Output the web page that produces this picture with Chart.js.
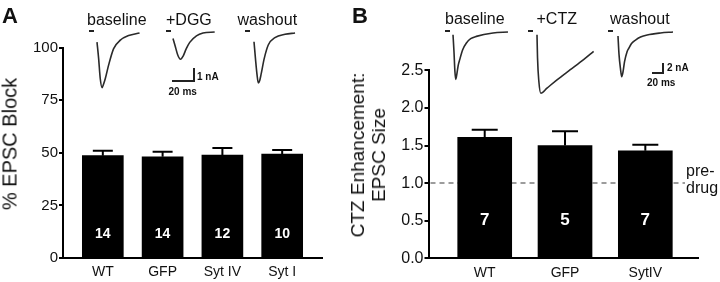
<!DOCTYPE html>
<html lang="en">
<head>
<meta charset="UTF-8">
<title>EPSC block / CTZ enhancement</title>
<script src="https://cdn.jsdelivr.net/npm/chart.js"></script>
<style>
  body { margin: 0; background: #fff; }
  #fig { position: relative; width: 720px; height: 282px; overflow: hidden; font-family: "Liberation Sans", Arial, sans-serif; color: #111; }
  #fig canvas { position: absolute; }
  .txt { position: absolute; white-space: nowrap; line-height: 1; }
  .panel { font-size: 22px; font-weight: bold; }
  .cond { font-size: 16px; }
  .ytitle { position: absolute; transform: translate(-50%, -50%) rotate(-90deg); white-space: nowrap; text-align: center; }
  .stim { position: absolute; height: 2px; width: 5px; background: #222; }
  .sb { position: absolute; border-right: 2px solid #222; border-bottom: 2px solid #222; }
  .sbl { font-size: 10px; font-weight: bold; }
</style>
</head>
<body>
<div id="fig">
  <canvas id="chartA" width="335" height="282" style="left:0;top:0"></canvas>
  <canvas id="chartB" width="385" height="282" style="left:335px;top:0"></canvas>

  <div class="txt panel" style="left:2px;top:4.5px">A</div>
  <div class="txt panel" style="left:352px;top:4.5px">B</div>

  <div class="txt cond" style="left:87px;top:11.5px">baseline</div>
  <div class="txt cond" style="left:166px;top:11.5px">+DGG</div>
  <div class="txt cond" style="left:237.5px;top:11.5px">washout</div>
  <div class="txt cond" style="left:445px;top:10.5px">baseline</div>
  <div class="txt cond" style="left:536.5px;top:10.5px">+CTZ</div>
  <div class="txt cond" style="left:610px;top:10.5px">washout</div>

  <div class="stim" style="left:89px;top:29.5px"></div>
  <div class="stim" style="left:166px;top:29.5px"></div>
  <div class="stim" style="left:244.5px;top:29.5px"></div>
  <div class="stim" style="left:444.5px;top:29.5px"></div>
  <div class="stim" style="left:527.5px;top:29.5px"></div>
  <div class="stim" style="left:607.5px;top:29.5px"></div>

  <div class="sb" style="left:171.5px;top:67.5px;width:21px;height:12px"></div>
  <div class="txt sbl" style="left:197px;top:71.5px">1 nA</div>
  <div class="txt sbl" style="left:168.5px;top:86.5px">20 ms</div>
  <div class="sb" style="left:652px;top:62.5px;width:10px;height:9px"></div>
  <div class="txt sbl" style="left:667px;top:63px">2 nA</div>
  <div class="txt sbl" style="left:647px;top:77.5px">20 ms</div>

  <div class="ytitle" style="left:10px;top:144px;font-size:20px">% EPSC Block</div>
  <div class="ytitle" style="left:367.5px;top:155px;font-size:19px;line-height:21px">CTZ Enhancement:<br>EPSC Size</div>

  <div class="txt" style="left:686px;top:162px;font-size:16px;line-height:17px">pre-<br>drug</div>
</div>

<script>
  // Panel A: % EPSC block by DGG
  const catsA = ['WT', 'GFP', 'Syt IV', 'Syt I'];
  const blockA = [48.6, 48.1, 48.9, 49.4];
  const semA = [2.3, 2.4, 3.4, 1.9];
  const nA = ['14', '14', '12', '10'];
  const ticksA = [0, 25, 50, 75, 100];

  // Panel B: CTZ enhancement of EPSC size
  const catsB = ['WT', 'GFP', 'SytIV'];
  const enhB = [1.61, 1.50, 1.43];
  const semB = [0.10, 0.19, 0.08];
  const nB = ['7', '5', '7'];
  const ticksB = [0, 0.5, 1.0, 1.5, 2.0, 2.5];
  const preDrug = 1.0;

  // example EPSC traces (time in ms, current in nA)
  const tA1 = [0, 1.5, 3, 4.7, 6.2, 7.7, 10.8, 15.4, 21.6, 29.3, 39.4];
  const iA1 = [-0.7, -1.95, -3.5, -4.2, -3.9, -3.5, -2.45, -1.2, -0.55, -0.2, 0];
  const tA2 = [0, 2, 4.4, 6.9, 9.4, 12.2, 15.5, 21.7, 27.8, 38.6];
  const iA2 = [-0.5, -1.08, -1.77, -2.1, -1.85, -1.3, -0.8, -0.3, -0.08, 0];
  const tA3 = [0, 1.6, 2.8, 4.0, 5.3, 6.5, 9.5, 13.2, 19.4, 28.7, 38];
  const iA3 = [-0.67, -2.2, -3.2, -3.85, -3.65, -3.2, -1.95, -0.92, -0.36, -0.1, 0];
  const tB1 = [0, 1.7, 3.3, 4.7, 6.7, 8.9, 11.6, 16.7, 23.1, 30.5, 40.3, 69, 94.8];
  const iB1 = [-0.6, -4.3, -8.6, -10.3, -9.1, -7.3, -6.0, -3.85, -2.4, -1.45, -0.95, -0.22, 0];
  const tB2 = [0, 0.9, 3.1, 6.6, 17.2, 34.5, 57.4, 80.3, 97.6];
  const iB2 = [-0.6, -5.6, -10.6, -13.3, -12.2, -10.4, -8.2, -6.0, -4.2];
  const tB3 = [0, 1.7, 4.3, 6.4, 8.6, 11.2, 15.5, 18.6, 23.3, 30.2, 38.8, 50.3, 73.3, 94.8];
  const iB3 = [-0.87, -4.8, -8.0, -9.7, -8.7, -6.5, -4.35, -3.55, -2.5, -1.75, -1.1, -0.65, -0.22, 0];

  Chart.defaults.font.family = '"Liberation Sans", Arial, sans-serif';
  Chart.defaults.color = '#111';

  // error bars (SEM, upward only), n inside bars, optional dashed reference line
  const barExtras = {
    id: 'barExtras',
    beforeDatasetsDraw(chart, args, o) {
      if (o.refLine == null) return;
      const { ctx, chartArea } = chart;
      const y = chart.scales.y.getPixelForValue(o.refLine);
      ctx.save();
      ctx.strokeStyle = '#9c9c9c';
      ctx.lineWidth = 2;
      ctx.setLineDash([5, 4]);
      ctx.beginPath();
      ctx.moveTo(chartArea.left + 2, y);
      ctx.lineTo(chartArea.right - o.refGap, y);
      ctx.stroke();
      ctx.restore();
    },
    afterDatasetsDraw(chart, args, o) {
      const { ctx } = chart;
      const ys = chart.scales.y;
      ctx.save();
      chart.getDatasetMeta(0).data.forEach((bar, i) => {
        const top = ys.getPixelForValue(o.means[i] + o.sem[i]);
        ctx.strokeStyle = '#000';
        ctx.lineWidth = 2;
        ctx.beginPath();
        ctx.moveTo(bar.x, bar.y);
        ctx.lineTo(bar.x, top);
        ctx.moveTo(bar.x - o.cap / 2, top);
        ctx.lineTo(bar.x + o.cap / 2, top);
        ctx.stroke();
        ctx.fillStyle = '#fff';
        ctx.font = o.nFont;
        ctx.textAlign = 'center';
        ctx.textBaseline = 'middle';
        ctx.fillText(o.n[i], bar.x, bar.base - o.nOffset);
      });
      ctx.restore();
    }
  };

  function barChart(id, cats, means, sem, n, yTicks, opt) {
    return new Chart(document.getElementById(id), {
      type: 'bar',
      data: {
        datasets: [{
          data: means.map((v, i) => ({ x: i + 1, y: v })),
          backgroundColor: '#000',
          borderWidth: 0,
          barThickness: opt.barW
        }]
      },
      options: {
        responsive: false,
        animation: false,
        events: [],
        layout: { padding: { left: 0, top: opt.padTop, right: opt.padRight, bottom: 0 } },
        plugins: {
          legend: { display: false },
          tooltip: { enabled: false },
          barExtras: { means: means, sem: sem, n: n, cap: opt.cap, nFont: opt.nFont, nOffset: opt.nOffset,
                       refLine: opt.refLine, refGap: opt.refGap }
        },
        scales: {
          x: {
            type: 'linear',
            offset: false,
            min: opt.xMin, max: opt.xMax,
            afterBuildTicks: s => { s.ticks = cats.map((c, i) => ({ value: i + 1 })); },
            afterFit: s => { s.height = opt.xH; },
            grid: { display: false, drawTicks: false },
            border: { display: true, color: '#000', width: 2 },
            ticks: { callback: v => cats[v - 1], font: { size: 14 }, padding: 6, maxRotation: 0, autoSkip: false }
          },
          y: {
            min: yTicks[0], max: yTicks[yTicks.length - 1],
            afterBuildTicks: s => { s.ticks = yTicks.map(v => ({ value: v })); },
            afterFit: s => { s.width = opt.yW; },
            grid: { drawOnChartArea: false, drawTicks: true, tickLength: 4, color: '#000', lineWidth: 2 },
            border: { display: true, color: '#000', width: 2 },
            ticks: { callback: opt.fmt, font: { size: opt.tickSize }, padding: 1 }
          }
        }
      },
      plugins: [barExtras]
    });
  }

  barChart('chartA', catsA, blockA, semA, nA, ticksA, {
    barW: 41, cap: 20, nFont: 'bold 14px "Liberation Sans", Arial', nOffset: 23,
    padTop: 47.5, padRight: 13, xH: 24, yW: 63, xMin: 0.334, xMax: 4.666,
    tickSize: 15, fmt: v => String(v)
  });

  barChart('chartB', catsB, enhB, semB, nB, ticksB, {
    barW: 54, cap: 26, nFont: 'bold 17px "Liberation Sans", Arial', nOffset: 37,
    padTop: 70.3, padRight: 22, xH: 23.7, yW: 93.5, xMin: 0.300, xMax: 3.656,
    tickSize: 16, fmt: v => v.toFixed(1), refLine: preDrug, refGap: 13
  });

  // EPSC example traces, one small chart each
  const fig = document.getElementById('fig');
  function drawTrace(t, cur, x0, y0, pxMs, pxNa) {
    const m = 3;
    const tMax = Math.max(...t), iMin = Math.min(...cur), iMax = Math.max(0, ...cur);
    const w = Math.ceil(tMax * pxMs + 2 * m), h = Math.ceil((iMax - iMin) * pxNa + 2 * m);
    const cv = document.createElement('canvas');
    cv.width = w; cv.height = h;
    cv.style.left = (x0 - m) + 'px';
    cv.style.top = (y0 - iMax * pxNa - m) + 'px';
    fig.appendChild(cv);
    new Chart(cv, {
      type: 'line',
      data: { datasets: [{
        data: t.map((v, k) => ({ x: v, y: cur[k] })),
        borderColor: '#2a2a2a', borderWidth: 1.6, pointRadius: 0, cubicInterpolationMode: 'monotone'
      }] },
      options: {
        responsive: false, animation: false, events: [],
        layout: { padding: 0 },
        plugins: { legend: { display: false }, tooltip: { enabled: false } },
        scales: {
          x: { type: 'linear', display: false, min: -m / pxMs, max: (w - m) / pxMs },
          y: { display: false, min: iMax - (h - m) / pxNa, max: iMax + m / pxNa }
        }
      }
    });
  }

  // panel A: 20 ms = 21.6 px, 1 nA = 13 px ; panel B: 20 ms = 11.6 px, 2 nA = 9.2 px
  drawTrace(tA1, iA1, 96.7, 33, 1.08, 13);
  drawTrace(tA2, iA2, 173.3, 32, 1.08, 13);
  drawTrace(tA3, iA3, 254, 33, 1.08, 13);
  drawTrace(tB1, iB1, 453.3, 32.3, 0.58, 4.6);
  drawTrace(tB2, iB2, 536.7, 32.3, 0.58, 4.6);
  drawTrace(tB3, iB3, 617.5, 32, 0.58, 4.6);
</script>
</body>
</html>
